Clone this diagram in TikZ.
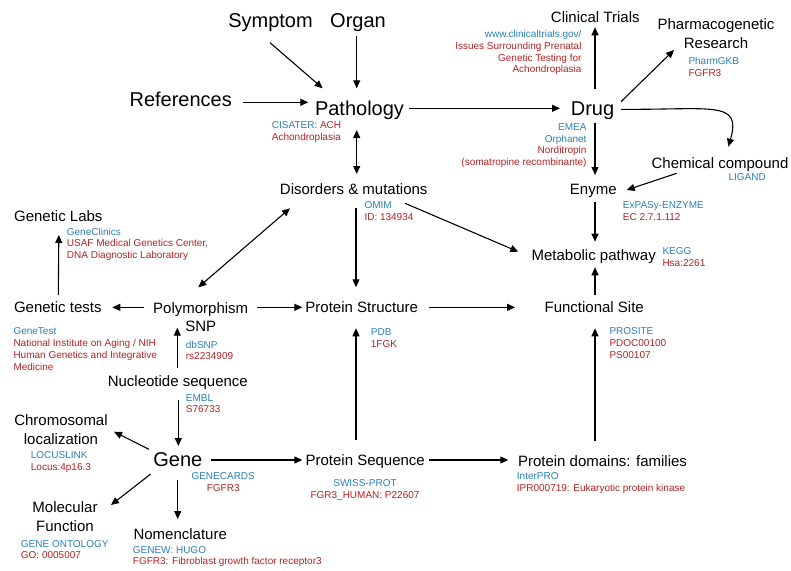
\documentclass[tikz,border=0pt]{standalone}
\usepackage{fontspec}
\setmainfont{Liberation Sans}
\usetikzlibrary{arrows.meta}

\definecolor{srcblue}{RGB}{41,128,185}
\definecolor{entred}{RGB}{178,34,34}
\newcommand{\src}[1]{\textcolor{srcblue}{#1}}
\newcommand{\ent}[1]{\textcolor{entred}{#1}}

\tikzset{
  big/.style={font=\fontsize{20}{24}\selectfont, inner sep=0pt, anchor=base},
  mid/.style={font=\fontsize{15}{18.5}\selectfont, inner sep=0pt, anchor=base},
  note/.style={font=\fontsize{10}{11.8}\selectfont, inner sep=0pt, align=left, anchor=north west},
  link/.style={-{Triangle[length=8pt,width=7pt]}, line width=1.1pt},
  bilink/.style={{Triangle[length=8pt,width=7pt]}-{Triangle[length=8pt,width=7pt]}, line width=1.1pt}
}

\begin{document}
\begin{tikzpicture}[x=1pt,y=-1pt]

    \useasboundingbox (0,0) rectangle (791,570);

    % Top row
    \node[big] (symptom) at (270.5,27) {Symptom};
    \node[big] (organ) at (358,27) {Organ};
    \node[big] (refs) at (180.7,106) {References};
    \node[big] (patho) at (359.5,115) {Pathology};
    \node[big] (drug) at (592.5,115) {Drug};
    \node[mid] (trials) at (595.3,22) {Clinical Trials};
    \node[mid, anchor=north, align=center] (pharma) at (716,18.5) {Pharmacogenetic\\Research};
    \node[mid] (chem) at (720,168.3) {Chemical compound};

    % Middle rows
    \node[mid] (disord) at (353.7,194) {Disorders \& mutations};
    \node[mid] (enyme) at (593.3,194) {Enyme};
    \node[mid] (labs) at (58.3,221.7) {Genetic Labs};
    \node[mid] (metab) at (593.7,260.7) {Metabolic pathway};
    \node[mid] (tests) at (57.8,312.7) {Genetic tests};
    \node[mid, anchor=north, align=center] (poly) at (200.7,302) {Polymorphism\\SNP};
    \node[mid] (pstruct) at (361.7,312.7) {Protein Structure};
    \node[mid] (funct) at (594.2,312.7) {Functional Site};
    \node[mid] (nucl) at (177.8,386.7) {Nucleotide sequence};

    % Bottom rows
    \node[mid, anchor=north, align=center] (chromo) at (61,414.5) {Chromosomal\\localization};
    \node[big] (gene) at (177.8,466.7) {Gene};
    \node[mid] (pseq) at (365.2,465.7) {Protein Sequence};
    \node[mid] (domains) at (602.5,466) {Protein domains: families};
    \node[mid, anchor=north, align=center] (molec) at (65,501.5) {Molecular\\Function};
    \node[mid] (nomen) at (180.2,539.3) {Nomenclature};

    % Databases and entries
    \node[note] (npatho) at (271.7,121.7) {\src{CISATER}\ent{: ACH}\\\ent{Achondroplasia}};
    \node[note, anchor=north east, align=right] (ntrials) at (581.7,30) {\src{www.clinicaltrials.gov/}\\\ent{Issues Surrounding Prenatal}\\\ent{Genetic Testing for}\\\ent{Achondroplasia}};
    \node[note] (npharma) at (688.3,57.3) {\src{PharmGKB}\\\ent{FGFR3}};
    \node[note, anchor=north east, align=right] (ndrug) at (586.7,123.3) {\src{EMEA}\\\src{Orphanet}\\\ent{Norditropin}\\\ent{(somatropine recombinante)}};
    \node[note] (nchem) at (728.3,173.3) {\src{LIGAND}};
    \node[note] (nenyme) at (622.7,201.7) {\src{ExPASy-ENZYME}\\\ent{EC 2.7.1.112}};
    \node[note] (ndisord) at (364.3,201.7) {\src{OMIM}\\\ent{ID: 134934}};
    \node[note] (nmetab) at (662.3,247.7) {\src{KEGG}\\\ent{Hsa:2261}};
    \node[note] (nlabs) at (66.7,227.7) {\src{GeneClinics}\\\ent{USAF Medical Genetics Center,}\\\ent{DNA Diagnostic Laboratory}};
    \node[note] (ntests) at (13.3,327.7) {\src{GeneTest}\\\ent{National Institute on Aging / NIH}\\\ent{Human Genetics and Integrative}\\\ent{Medicine}};
    \node[note] (npoly) at (185.7,340.7) {\src{dbSNP}\\\ent{rs2234909}};
    \node[note] (npstruct) at (370.7,328.3) {\src{PDB}\\\ent{1FGK}};
    \node[note] (nfunct) at (609.3,327.3) {\src{PROSITE}\\\ent{PDOC00100}\\\ent{PS00107}};
    \node[note] (nnucl) at (185.7,394) {\src{EMBL}\\\ent{S76733}};
    \node[note] (nchromo) at (30.7,451.7) {\src{LOCUSLINK}\\\ent{Locus:4p16.3}};
    \node[note, anchor=north, align=center] (ngene) at (223.2,472.7) {\src{GENECARDS}\\\ent{FGFR3}};
    \node[note, anchor=north, align=center] (npseq) at (365,479.3) {\src{SWISS-PROT}\\\ent{FGR3\_HUMAN: P22607}};
    \node[note] (ndomains) at (516.7,472.7) {\src{InterPRO}\\\ent{IPR000719: Eukaryotic protein kinase}};
    \node[note] (nmolec) at (20.7,540) {\src{GENE ONTOLOGY}\\\ent{GO: 0005007}};
    \node[note] (nnomen) at (132.7,546) {\src{GENEW: HUGO}\\\ent{FGFR3: Fibroblast growth factor receptor3}};

    % Connectors
    \draw[link] ([shift={(-0.5,15.7)}]symptom.base) -- ([shift={(-36.8,-26.7)}]patho.base);
    \draw[link] ([shift={(-1.3,9)}]organ.base) -- ([shift={(-2.8,-26.7)}]patho.base);
    \draw[link] ([shift={(62.6,-3.7)}]refs.base) -- ([shift={(-51.2,-12.7)}]patho.base);
    \draw[link] ([shift={(49.8,-6.7)}]patho.base) -- ([shift={(-32.5,-6.7)}]drug.base);
    \draw[bilink] ([shift={(-2.8,15)}]patho.base) -- ([shift={(3,-20)}]disord.base);
    \draw[link] ([shift={(2.5,-25.7)}]drug.base) -- ([shift={(-0.3,5.3)}]trials.base);
    \draw[link] ([shift={(28.5,-13.3)}]drug.base) -- ([shift={(-42,31.5)}]pharma.north);
    \draw[link] ([shift={(28.5,-5.7)}]drug.base) .. controls (712,110) and (742,100) .. ([shift={(8.3,-21.6)}]chem.base);
    \draw[link] ([shift={(-43.3,5)}]chem.base) -- ([shift={(33.4,-4)}]enyme.base);
    \draw[link] ([shift={(2.5,8.3)}]drug.base) -- ([shift={(1.7,-19)}]enyme.base);
    \draw[link] ([shift={(1.7,7.7)}]enyme.base) -- ([shift={(1.3,-19)}]metab.base);
    \draw[link] ([shift={(51.3,9.3)}]disord.base) -- ([shift={(-75.4,-9)}]metab.base);
    \draw[link] ([shift={(0.8,-17.7)}]funct.base) -- ([shift={(1.3,6.6)}]metab.base);
    \draw[link] ([shift={(67.6,-5.4)}]pstruct.base) -- ([shift={(-79.2,-5.4)}]funct.base);
    \draw[link] ([shift={(56,5.3)}]poly.north) -- ([shift={(-59.4,-5.4)}]pstruct.base);
    \draw[link] ([shift={(-56.4,5.3)}]poly.north) -- ([shift={(54.5,-5.4)}]tests.base);
    \draw[link] ([shift={(0.5,-17.7)}]tests.base) -- ([shift={(0.5,13.3)}]labs.base);
    \draw[bilink] ([shift={(-63.7,14.3)}]disord.base) -- ([shift={(-2.4,-14.7)}]poly.north);
    \draw[link] ([shift={(2.3,14.3)}]disord.base) -- ([shift={(-5.7,-25.4)}]pstruct.base);
    \draw[link] ([shift={(-0.5,-18.4)}]nucl.base) -- ([shift={(-23.4,25.7)}]poly.north);
    \draw[link] ([shift={(-9.2,-25.7)}]pseq.base) -- ([shift={(-5.7,15.6)}]pstruct.base);
    \draw[link] ([shift={(0.5,13.3)}]nucl.base) -- ([shift={(0.5,-20.7)}]gene.base);
    \draw[link] ([shift={(-28.8,-17.4)}]gene.base) -- ([shift={(53,17.2)}]chromo.north);
    \draw[link] ([shift={(-27.1,7.3)}]gene.base) -- ([shift={(46,3.5)}]molec.north);
    \draw[link] ([shift={(-0.1,13.3)}]gene.base) -- ([shift={(-2.5,-20.3)}]nomen.base);
    \draw[link] ([shift={(32.9,-6.7)}]gene.base) -- ([shift={(-62.9,-5.7)}]pseq.base);
    \draw[link] ([shift={(64.1,-5.7)}]pseq.base) -- ([shift={(-94.2,-6)}]domains.base);
    \draw[link] ([shift={(-7.5,-25.3)}]domains.base) -- ([shift={(0.8,15.6)}]funct.base);

\end{tikzpicture}
\end{document}
